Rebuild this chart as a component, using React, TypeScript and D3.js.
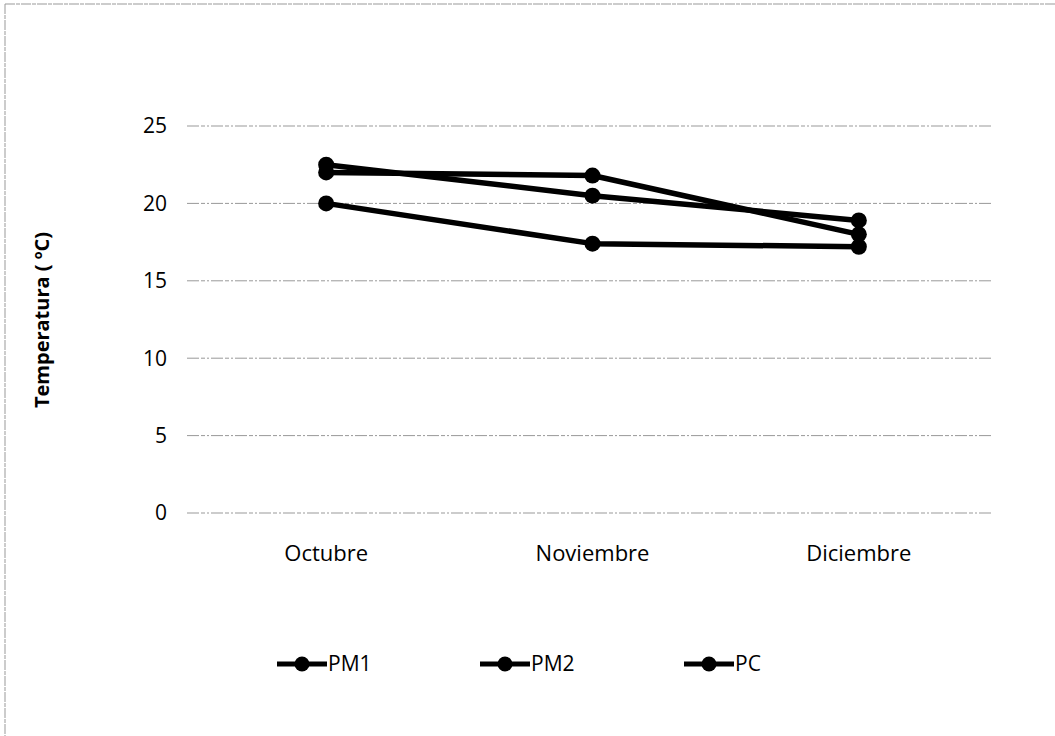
import React from "react";
import * as d3 from "d3";

const categories = ["Octubre", "Noviembre", "Diciembre"];
const seriesNames = ["PM1", "PM2", "PC"];
const pm1 = [22.5, 20.5, 18.9];
const pm2 = [22.0, 21.8, 18.0];
const pc = [20.0, 17.4, 17.2];
const yTicks = [0, 5, 10, 15, 20, 25];

const W = 1055;
const H = 736;
const FONT = "'Open Sans', 'DejaVu Sans', sans-serif";

export default function App() {
  const x = d3.scaleBand<string>().domain(categories).range([193, 992]);
  const y = d3.scaleLinear().domain([0, 25]).range([513, 126]);
  const seriesData = [pm1, pm2, pc];
  const line = d3
    .line<number>()
    .x((_, i) => (x(categories[i]) as number) + x.bandwidth() / 2)
    .y((d) => y(d));

  const legendX = [277, 480, 684];
  const legendY = 664;

  return (
    <svg
      width={W}
      height={H}
      style={{ position: "absolute", left: 0, top: 0, background: "#fff" }}
    >
      <rect x={0} y={0} width={W} height={H} fill="#fff" />
      {/* scanned frame */}
      <line x1={5} y1={4} x2={W} y2={4} stroke="#999" strokeWidth={1} strokeDasharray="10 1 4 1" />
      <line x1={5} y1={4} x2={5} y2={H} stroke="#999" strokeWidth={1} strokeDasharray="10 1 4 1" />

      {yTicks.map((t) => (
        <g key={t}>
          <line
            x1={187}
            x2={993}
            y1={y(t)}
            y2={y(t)}
            stroke="#999"
            strokeWidth={1}
            strokeDasharray="12 2 4 2 2 2"
          />
          <text
            x={167}
            y={y(t)}
            dy="0.35em"
            textAnchor="end"
            fontFamily={FONT}
            fontSize={21}
            fill="#000"
          >
            {t}
          </text>
        </g>
      ))}

      {categories.map((c) => (
        <text
          key={c}
          x={(x(c) as number) + x.bandwidth() / 2}
          y={561}
          textAnchor="middle"
          fontFamily={FONT}
          fontSize={22}
          fill="#000"
        >
          {c}
        </text>
      ))}

      <text
        transform={`translate(49,320) rotate(-90)`}
        textAnchor="middle"
        fontFamily={FONT}
        fontWeight="bold"
        fontSize={20}
        fill="#000"
      >
        Temperatura ( ºC)
      </text>

      {seriesData.map((s, si) => (
        <g key={seriesNames[si]}>
          <path d={line(s) || ""} fill="none" stroke="#000" strokeWidth={5.5} strokeLinejoin="round" />
          {s.map((v, i) => (
            <circle
              key={i}
              cx={(x(categories[i]) as number) + x.bandwidth() / 2}
              cy={y(v)}
              r={8}
              fill="#000"
            />
          ))}
        </g>
      ))}

      {seriesNames.map((n, i) => (
        <g key={n}>
          <line
            x1={legendX[i]}
            x2={legendX[i] + 50}
            y1={legendY}
            y2={legendY}
            stroke="#000"
            strokeWidth={5}
          />
          <circle cx={legendX[i] + 25} cy={legendY} r={7.5} fill="#000" />
          <text
            x={legendX[i] + 51}
            y={legendY}
            dy="0.35em"
            fontFamily={FONT}
            fontSize={21}
            fill="#000"
          >
            {n}
          </text>
        </g>
      ))}
    </svg>
  );
}
